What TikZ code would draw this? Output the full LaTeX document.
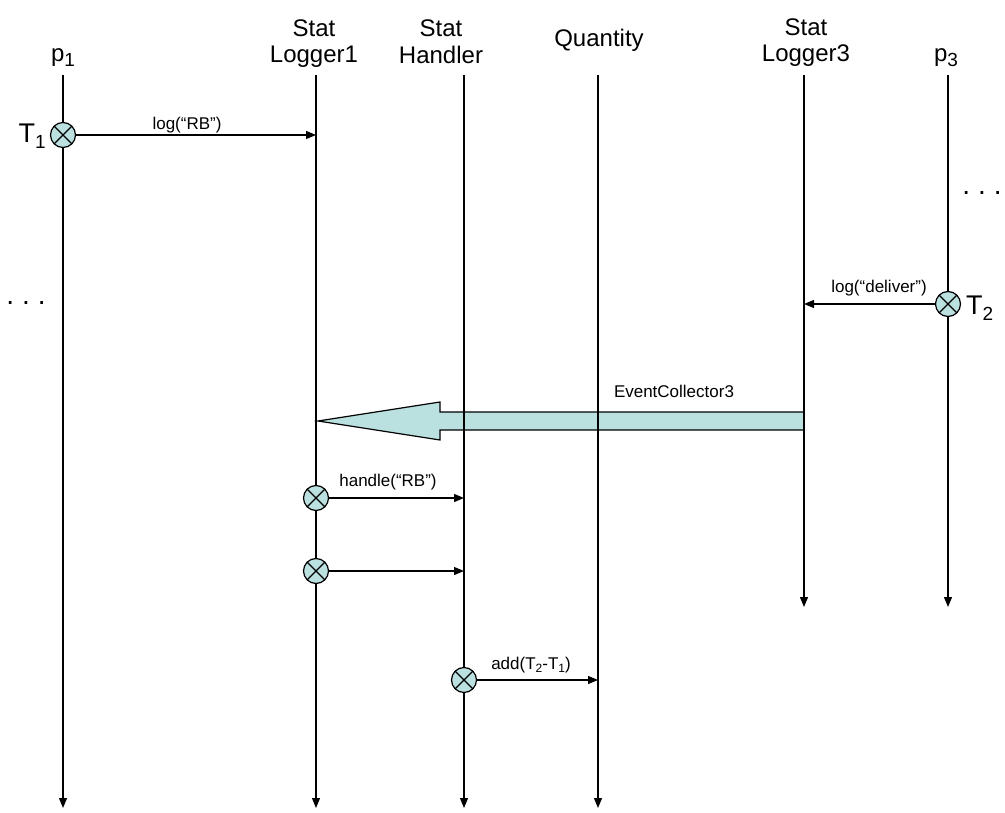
\documentclass[tikz,border=0pt]{standalone}
\usepackage{fontspec}
\setmainfont{Liberation Sans}
\usetikzlibrary{arrows.meta}
\definecolor{cyanfill}{RGB}{186,224,224}
\newcommand\lowsub[3]{\raisebox{#1}{\fontsize{#2}{#2}\selectfont #3}}
\begin{document}
\begin{tikzpicture}[x=1pt,y=-1pt,
  life/.style={line width=1.2pt,-{Triangle[length=10pt,width=8pt]}},
  msg/.style={line width=1.2pt,-{Triangle[length=10pt,width=8pt]}},
  head/.style={font=\fontsize{24}{26.5}\selectfont,align=center,inner sep=0pt},
  lbl/.style={font=\fontsize{17}{19}\selectfont,inner sep=0pt,anchor=base},
  tlbl/.style={font=\fontsize{27}{30}\selectfont,inner sep=0pt},
  dotlbl/.style={font=\fontsize{28}{28}\selectfont,inner sep=0pt,anchor=base},
  evt/.style={circle,draw,line width=1.2pt,fill=cyanfill,minimum size=25pt,inner sep=0pt,
    path picture={\draw[line width=1.2pt]
      (path picture bounding box.north west) -- (path picture bounding box.south east)
      (path picture bounding box.north east) -- (path picture bounding box.south west);}},
  bigarrow/.style={draw,line width=1.2pt,fill=cyanfill,line join=miter}
]
\useasboundingbox (0,0) rectangle (1005,813);

% headers
\node[head,anchor=base] (hp1) at (63,62) {p\lowsub{-5pt}{19}{1}};
\node[head,anchor=south] (hsl1) at (314,68) {Stat\\Logger1};
\node[head,anchor=south] (hsh) at (441,63.5) {Stat\\Handler};
\node[head,anchor=base] (hq) at (599,47) {Quantity};
\node[head,anchor=south] (hsl3) at (806,67) {Stat\\Logger3};
\node[head,anchor=base] (hp3) at (946,62) {p\lowsub{-5pt}{19}{3}};

% lifeline ends
\coordinate (p1t) at (63,75);   \coordinate (p1b) at (63,808);
\coordinate (sl1t) at (316,75); \coordinate (sl1b) at (316,808);
\coordinate (sht) at (464,75);  \coordinate (shb) at (464,808);
\coordinate (qt) at (598,75);   \coordinate (qb) at (598,808);
\coordinate (sl3t) at (804,75); \coordinate (sl3b) at (804,607);
\coordinate (p3t) at (948,75);  \coordinate (p3b) at (948,607);

% big EventCollector3 arrow (behind lifelines)
\draw[bigarrow] (804,412) -- (440,412) -- (440,402) -- (318,421) -- (440,440) -- (440,430) -- (804,430) -- cycle;
\node[lbl] (ec3) at (674,397) {EventCollector3};

% lifelines
\draw[life] (p1t) -- (p1b);
\draw[life] (sl1t) -- (sl1b);
\draw[life] (sht) -- (shb);
\draw[life] (qt) -- (qb);
\draw[life] (sl3t) -- (sl3b);
\draw[life] (p3t) -- (p3b);

% T1 log("RB")
\node[evt] (t1) at (63,135) {};
\node[tlbl,anchor=base east] (t1l) at (46,143) {T\lowsub{-6pt}{19}{1}};
\coordinate (a1) at (316,135);
\draw[msg] (t1) -- (a1);
\node[lbl] (l1) at (187,130) {log(“RB”)};

% T2 log("deliver")
\node[evt] (t2) at (948,304) {};
\node[tlbl,anchor=base west] (t2l) at (966,315) {T\lowsub{-6pt}{19}{2}};
\coordinate (a2) at (804,304);
\draw[msg] (t2) -- (a2);
\node[lbl] (l2) at (879,293) {log(“deliver”)};

% dots
\node[dotlbl] (d1) at (26,305) {.\hspace{8pt}.\hspace{8pt}.};
\node[dotlbl] (d2) at (982,195) {.\hspace{8pt}.\hspace{8pt}.};

% handle("RB")
\node[evt] (e1) at (316,498) {};
\coordinate (a3) at (464,498);
\draw[msg] (e1) -- (a3);
\node[lbl] (l3) at (388,486) {handle(“RB”)};

\node[evt] (e2) at (316,571) {};
\coordinate (a4) at (464,571);
\draw[msg] (e2) -- (a4);

% add(T2-T1)
\node[evt] (e3) at (464,680) {};
\coordinate (a5) at (598,680);
\draw[msg] (e3) -- (a5);
\node[lbl] (l5) at (531,669) {add(T\lowsub{-3pt}{12}{2}-T\lowsub{-3pt}{12}{1})};
\end{tikzpicture}
\end{document}
